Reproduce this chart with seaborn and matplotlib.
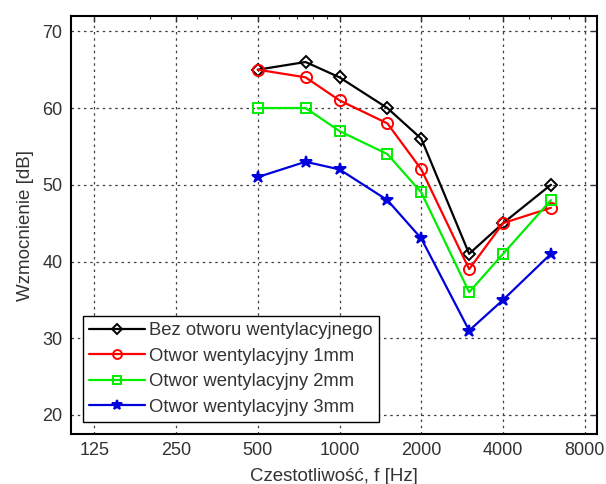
import matplotlib
matplotlib.use("Agg")
import matplotlib.pyplot as plt
import seaborn as sns
import pandas as pd
from matplotlib.ticker import FixedLocator, FixedFormatter, NullFormatter

freqs = [500, 750, 1000, 1500, 2000, 3000, 4000, 6000]
bez = [65, 66, 64, 60, 56, 41, 45, 50]
mm1 = [65, 64, 61, 58, 52, 39, 45, 47]
mm2 = [60, 60, 57, 54, 49, 36, 41, 48]
mm3 = [51, 53, 52, 48, 43, 31, 35, 41]
labels = ["Bez otworu wentylacyjnego", "Otwor wentylacyjny 1mm",
          "Otwor wentylacyjny 2mm", "Otwor wentylacyjny 3mm"]
xticks = [125, 250, 500, 1000, 2000, 4000, 8000]
yticks = [20, 30, 40, 50, 60, 70]

sns.set_theme(style="white")
plt.rcParams['font.family'] = ['Liberation Sans', 'DejaVu Sans']

fig = plt.figure(figsize=(6.06, 4.84), dpi=100)
ax = fig.add_axes([0.117, 0.103, 0.868, 0.864])

colors = ["black", "red", "#00ee00", "#0000dd"]
markers = ["D", "o", "s", "*"]
msizes = [6.5, 8, 7, 9]
for vals, lab, c, m, ms in zip([bez, mm1, mm2, mm3], labels, colors, markers, msizes):
    df = pd.DataFrame({"f": freqs, "v": vals})
    filled = (m == "*")
    sns.lineplot(data=df, x="f", y="v", ax=ax, color=c, marker=m,
                 markersize=ms, linewidth=1.6,
                 markerfacecolor=c if filled else "none",
                 markeredgecolor=c, markeredgewidth=1.4, label=lab)

ax.set_xscale("log")
ax.set_xlim(102.6, 8860)
ax.set_ylim(17.5, 72)
ax.xaxis.set_major_locator(FixedLocator(xticks))
ax.xaxis.set_major_formatter(FixedFormatter([str(t) for t in xticks]))
ax.xaxis.set_minor_formatter(NullFormatter())
ax.set_yticks(yticks)
ax.grid(True, which="major", linestyle=(0, (2, 3)), color="0.25", linewidth=0.9)
ax.tick_params(which="both", direction="in", top=True, right=True,
               labelsize=13, colors="#333333")
ax.tick_params(which="major", length=4, width=1, pad=6)
ax.tick_params(which="minor", length=2.5, width=0.8)
for s in ax.spines.values():
    s.set_color("black")
    s.set_linewidth(1.5)

ax.set_xlabel("Czestotliwość, f [Hz]", fontsize=13.5, color="#333333", labelpad=6)
ax.set_ylabel("Wzmocnienie [dB]", fontsize=13.5, color="#333333", labelpad=6)

leg = ax.legend(loc="lower left", bbox_to_anchor=(0.023, 0.029), fontsize=13.3,
                frameon=True, fancybox=False, framealpha=1, edgecolor="black",
                borderpad=0.35, labelspacing=0.46, handlelength=3.0,
                handletextpad=0.2, borderaxespad=0, markerscale=0.8)
leg.get_frame().set_linewidth(1.0)
for t in leg.get_texts():
    t.set_color("#333333")

fig.savefig("out.png", dpi=100)
